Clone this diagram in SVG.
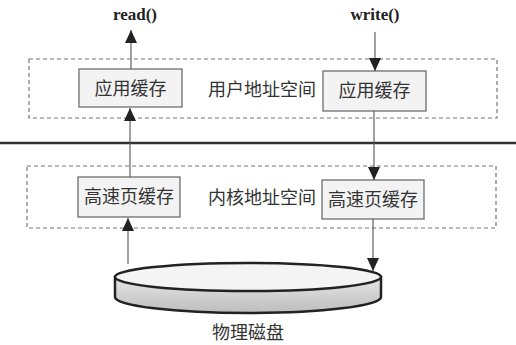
<svg xmlns="http://www.w3.org/2000/svg" width="516" height="345" viewBox="0 0 516 345">
  <style>
    .zone { fill: none; stroke: #777; stroke-width: 1.2; stroke-dasharray: 4 3; }
    .box { fill: #f3f3f3; stroke: #6e6e6e; stroke-width: 1.3; }
    .cn { font-family: "Liberation Serif", "Noto Sans CJK SC", serif; font-size: 18px; fill: #333; text-anchor: middle; dominant-baseline: central; }
    .call { font-family: "Liberation Serif", serif; font-size: 17px; font-weight: bold; fill: #222; text-anchor: middle; }
    .link { stroke: #555; stroke-width: 1.1; fill: none; marker-end: url(#head); }
  </style>
  <defs>
    <marker id="head" markerUnits="userSpaceOnUse" markerWidth="13" markerHeight="14" viewBox="0 0 13 14" refX="13" refY="7" orient="auto">
      <path d="M0,1 L13,7 L0,13 Z" fill="#222"/>
    </marker>
    <linearGradient id="rim" x1="0" y1="0" x2="0" y2="1">
      <stop offset="0" stop-color="#e6e6e6"/>
      <stop offset="1" stop-color="#bdbdbd"/>
    </linearGradient>
  </defs>
  <rect width="516" height="345" fill="#ffffff"/>

  <!-- function labels -->
  <text class="call" x="135" y="20">read()</text>
  <text class="call" x="375" y="20">write()</text>

  <!-- user / kernel boundary -->
  <line x1="0" y1="143" x2="516" y2="143" stroke="#333" stroke-width="2.5"/>

  <!-- address spaces -->
  <g id="user-space">
    <rect class="zone" x="29" y="59" width="468" height="59"/>
    <text class="cn" x="262" y="90">用户地址空间</text>
  </g>
  <g id="kernel-space">
    <rect class="zone" x="27" y="166" width="469" height="62"/>
    <text class="cn" x="262" y="198">内核地址空间</text>
  </g>

  <g id="app-buf-read">
    <rect class="box" x="79" y="69" width="103" height="38"/>
    <text class="cn" x="130.5" y="89">应用缓存</text>
  </g>
  <g id="app-buf-write">
    <rect class="box" x="323" y="71" width="103" height="40"/>
    <text class="cn" x="374.5" y="91">应用缓存</text>
  </g>
  <g id="page-cache-read">
    <rect class="box" x="78" y="177" width="102" height="40"/>
    <text class="cn" x="129" y="197">高速页缓存</text>
  </g>
  <g id="page-cache-write">
    <rect class="box" x="322" y="180" width="102" height="39"/>
    <text class="cn" x="373" y="199.5">高速页缓存</text>
  </g>

  <g id="disk">
    <path d="M115,277 L115,297 A133,16 0 0 0 381,297 L381,277 Z" fill="url(#rim)" stroke="#222" stroke-width="2.5"/>
    <ellipse cx="248" cy="277" rx="133" ry="14" fill="#f4f4f4" stroke="#222" stroke-width="2.5"/>
    <text class="cn" x="248" y="333">物理磁盘</text>
  </g>

  <g id="connectors">
    <line class="link" x1="131" y1="69" x2="131" y2="30"/>
    <line class="link" x1="130" y1="177" x2="130" y2="108"/>
    <line class="link" x1="128" y1="264" x2="128" y2="218"/>
    <line class="link" x1="375" y1="32" x2="375" y2="71"/>
    <line class="link" x1="374" y1="111" x2="374" y2="180"/>
    <line class="link" x1="373" y1="219" x2="373" y2="271"/>
  </g>
</svg>
